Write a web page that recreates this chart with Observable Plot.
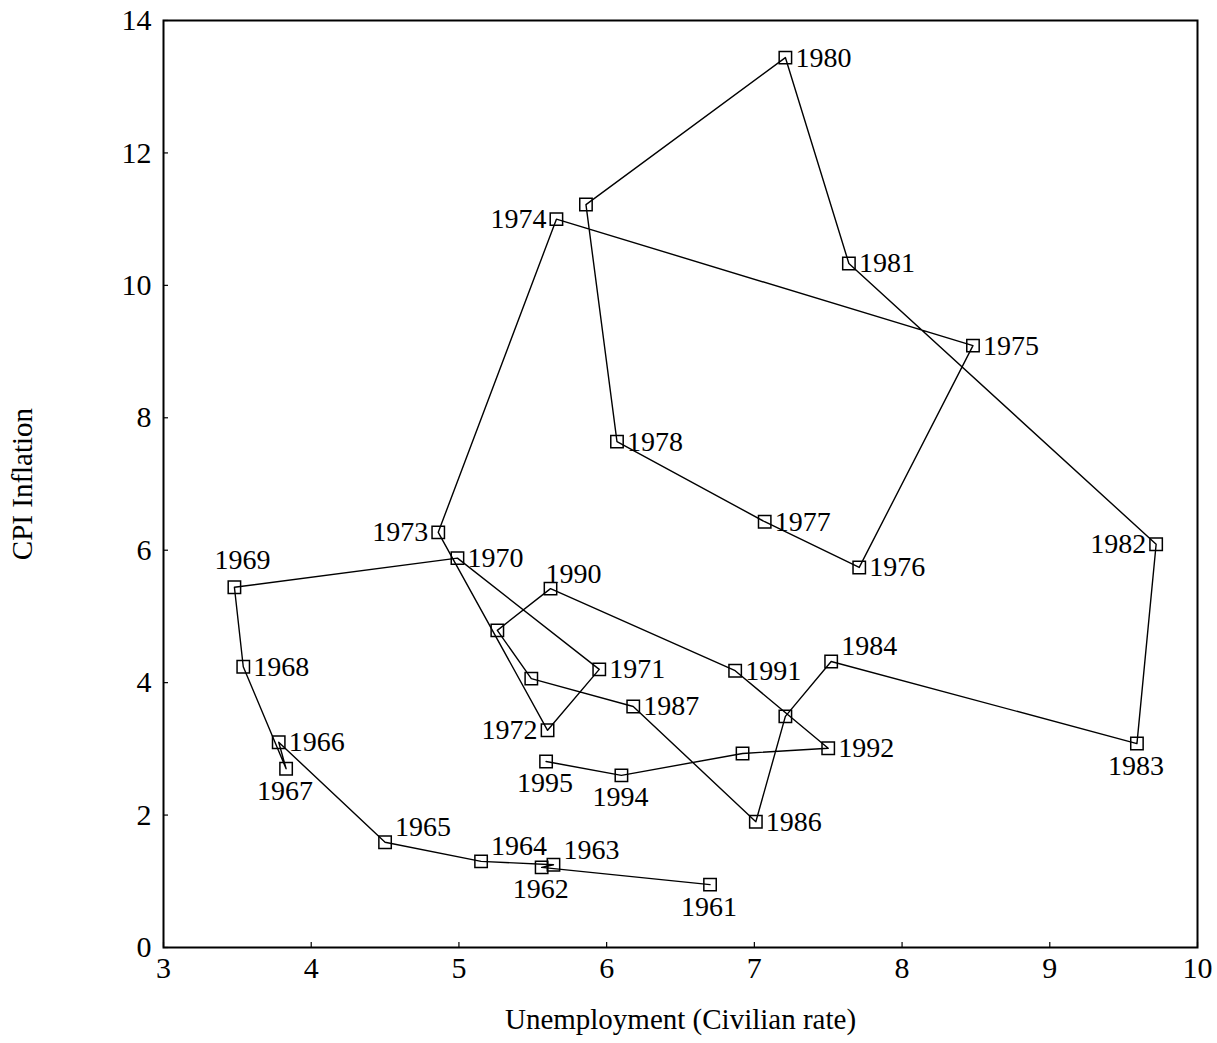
<!DOCTYPE html>
<html>
<head>
<meta charset="utf-8">
<script src="https://cdn.jsdelivr.net/npm/d3@7"></script>
<script src="https://cdn.jsdelivr.net/npm/@observablehq/plot@0.6"></script>
<style>
  html, body { margin: 0; padding: 0; background: #fff; }
</style>
</head>
<body>
<div id="chart"></div>
<script>
// Phillips-curve style loop: US unemployment vs CPI inflation, 1961–1995
const years = [1961, 1962, 1963, 1964, 1965, 1966, 1967, 1968, 1969, 1970,
               1971, 1972, 1973, 1974, 1975, 1976, 1977, 1978, 1979, 1980,
               1981, 1982, 1983, 1984, 1985, 1986, 1987, 1988, 1989, 1990,
               1991, 1992, 1993, 1994, 1995];
const unemployment = [6.70, 5.56, 5.64, 5.15, 4.50, 3.78, 3.83, 3.54, 3.48, 4.99,
                      5.95, 5.60, 4.86, 5.66, 8.48, 7.71, 7.07, 6.07, 5.86, 7.21,
                      7.64, 9.72, 9.59, 7.52, 7.21, 7.01, 6.18, 5.49, 5.26, 5.62,
                      6.87, 7.50, 6.92, 6.10, 5.59];
const inflation = [0.95, 1.21, 1.25, 1.30, 1.59, 3.10, 2.70, 4.24, 5.44, 5.88,
                   4.20, 3.28, 6.27, 11.00, 9.09, 5.74, 6.43, 7.64, 11.22, 13.44,
                   10.33, 6.09, 3.08, 4.32, 3.49, 1.90, 3.64, 4.06, 4.79, 5.42,
                   4.18, 3.01, 2.93, 2.60, 2.81];
// Years that carry a printed label
const labelledYears = [1961, 1962, 1963, 1964, 1965, 1966, 1967, 1968, 1969, 1970,
                       1971, 1972, 1973, 1974, 1975, 1976, 1977, 1978, 1980, 1981,
                       1982, 1983, 1984, 1986, 1987, 1990, 1991, 1992, 1994, 1995];
const xTicks = [3, 4, 5, 6, 7, 8, 9, 10];
const yTicks = [0, 2, 4, 6, 8, 10, 12, 14];

const points = years.map((year, i) => ({year, u: unemployment[i], cpi: inflation[i]}));

// Where each year label sits relative to its marker
const labelSide = {
  1961: "below", 1962: "below", 1967: "below", 1983: "below", 1994: "below", 1995: "below",
  1963: "aboveRight", 1964: "aboveRight", 1965: "aboveRight", 1984: "aboveRight",
  1969: "above", 1990: "over",
  1972: "left", 1973: "left", 1974: "left", 1982: "left"
};
const placements = {
  right:      {dx: 10,  dy: 0,   textAnchor: "start"},
  left:       {dx: -10, dy: 0,   textAnchor: "end"},
  below:      {dx: -1,  dy: 22,  textAnchor: "middle"},
  aboveRight: {dx: 10,  dy: -15, textAnchor: "start"},
  above:      {dx: 8,   dy: -27, textAnchor: "middle"},
  over:       {dx: -5,  dy: -15, textAnchor: "start"}
};
const sideOf = (year) => labelSide[year] || "right";
const labelled = points.filter(d => labelledYears.includes(d.year));

const serif = "'Liberation Serif', 'DejaVu Serif', serif";

const chart = Plot.plot({
  width: 1217,
  height: 1043,
  marginLeft: 163,
  marginRight: 20,
  marginTop: 20,
  marginBottom: 96,
  x: {domain: [3, 10]},
  y: {domain: [0, 14]},
  style: {fontFamily: serif, fontSize: "30px", background: "#fff", color: "#000"},
  marks: [
    Plot.frame({stroke: "#000", strokeWidth: 2}),
    // tick labels
    Plot.axisX({ticks: xTicks, tickFormat: d3.format("d"), tickSize: 0, tickPadding: 9, label: null, fontSize: 30}),
    Plot.axisY({ticks: yTicks, tickFormat: d3.format("d"), tickSize: 0, tickPadding: 12, label: null, fontSize: 30}),
    // short inward tick marks
    Plot.axisX({ticks: xTicks, tickSize: -5, tickFormat: () => "", label: null, strokeWidth: 1.2}),
    Plot.axisY({ticks: yTicks, tickSize: -5, tickFormat: () => "", label: null, strokeWidth: 1.2}),
    // axis titles
    Plot.text(["Unemployment (Civilian rate)"], {
      frameAnchor: "bottom", dy: 72, lineAnchor: "middle", textAnchor: "middle", fontSize: 29, fill: "#000"
    }),
    Plot.text(["CPI Inflation"], {
      frameAnchor: "left", dx: -141, rotate: -90, textAnchor: "middle", lineAnchor: "middle", fontSize: 29, fill: "#000"
    }),
    // path through the years in order
    Plot.line(points, {x: "u", y: "cpi", stroke: "#000", strokeWidth: 1.4, curve: "linear"}),
    Plot.dot(points, {x: "u", y: "cpi", symbol: "square", r: 7, stroke: "#000", strokeWidth: 1.5, fill: "none"}),
    // year labels, one mark per placement
    ...Object.entries(placements).map(([side, opts]) =>
      Plot.text(labelled.filter(d => sideOf(d.year) === side), {
        x: "u", y: "cpi", text: d => String(d.year),
        fontSize: 28, fill: "#000", ...opts
      })
    )
  ]
});

document.getElementById("chart").appendChild(chart);
</script>
</body>
</html>
